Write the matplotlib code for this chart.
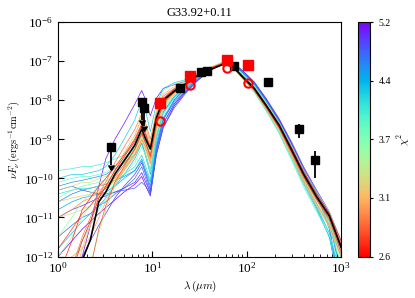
import numpy as np
import matplotlib
matplotlib.use("Agg")
import matplotlib.pyplot as plt
from matplotlib.colors import LogNorm
from matplotlib.cm import ScalarMappable
from matplotlib.ticker import NullLocator

plt.rcParams['font.family'] = 'serif'
plt.rcParams['font.serif'] = ['Liberation Serif', 'DejaVu Serif']
plt.rcParams['mathtext.fontset'] = 'cm'

title = "G33.92+0.11"

# wavelength grid of the model SEDs (micron)
wav = [1, 1.4, 1.8, 2.2, 2.7, 3.2, 4, 5, 6.5, 7.7, 8.5, 9.5, 11, 13, 17, 22, 30,
       40, 55, 70, 90, 120, 160, 220, 300, 400, 550, 750, 1000]

# best fit model, log10(nuFnu)
best_fit = [-14, -13, -12.1, -11.57, -10.6, -10.35, -9.89, -9.55, -9.15, -8.74, -9.0,
            -9.25, -8.45, -8.0, -7.77, -7.6, -7.37, -7.23, -7.09, -7.12, -7.4, -7.7,
            -8.13, -8.64, -9.28, -9.89, -10.47, -10.96, -11.76]

# other good models: chi2 and log10(nuFnu)
model_chi2 = [2.7, 2.65, 2.8, 2.9, 3.0, 3.1, 3.3, 3.4, 3.5, 3.7, 3.9, 4.0, 4.2,
              4.4, 4.5, 4.7, 4.8, 4.9, 5.1, 5.2,
              3.2, 3.6, 3.8, 4.1, 4.3, 4.6, 5.0, 2.75, 3.05, 3.5]
m01 = [-12.5, -11.6, -10.8, -10.5, -10.2, -10.0, -9.7, -9.4, -9.0, -8.6, -8.85, -9.2, -8.45, -7.95, -7.72, -7.58, -7.36, -7.18, -7.06, -7.1, -7.37, -7.67, -8.1, -8.6, -9.22, -9.82, -10.4, -10.9, -11.6]
m02 = [-13, -12.4, -11.6, -11.1, -10.5, -10.2, -9.8, -9.45, -9.05, -8.65, -8.9, -9.25, -8.48, -7.98, -7.74, -7.6, -7.38, -7.2, -7.07, -7.11, -7.39, -7.69, -8.12, -8.63, -9.26, -9.87, -10.45, -10.95, -11.7]
m03 = [-15, -14, -13, -12.3, -11.3, -10.7, -10.1, -9.7, -9.25, -8.85, -9.1, -9.4, -8.6, -8.05, -7.78, -7.62, -7.4, -7.21, -7.08, -7.13, -7.42, -7.73, -8.17, -8.7, -9.35, -9.97, -10.55, -11.05, -11.9]
m04 = [-13.5, -12.3, -11.5, -11.0, -10.4, -10.1, -9.6, -9.2, -8.75, -8.35, -8.6, -9.0, -8.35, -7.9, -7.7, -7.57, -7.37, -7.2, -7.08, -7.13, -7.4, -7.72, -8.15, -8.67, -9.3, -9.93, -10.52, -11.0, -11.7]
m05 = [-11.0, -10.8, -10.6, -10.5, -10.3, -10.2, -10.0, -9.75, -9.4, -9.0, -9.2, -9.5, -8.65, -8.1, -7.8, -7.63, -7.4, -7.22, -7.09, -7.14, -7.43, -7.75, -8.2, -8.73, -9.4, -10.05, -10.65, -11.2, -12.0]
m06 = [-14, -12.8, -11.8, -11.2, -10.5, -10.2, -9.8, -9.35, -8.9, -8.45, -8.7, -9.1, -8.3, -7.85, -7.65, -7.52, -7.33, -7.17, -7.06, -7.11, -7.38, -7.7, -8.12, -8.62, -9.25, -9.85, -10.45, -10.95, -11.7]
m07 = [-10.3, -10.2, -10.1, -10.1, -10.0, -9.95, -9.8, -9.6, -9.3, -8.9, -9.1, -9.5, -8.6, -8.05, -7.75, -7.58, -7.35, -7.17, -7.05, -7.1, -7.38, -7.7, -8.15, -8.7, -9.35, -10.0, -10.6, -11.15, -12.0]
m08 = [-11.0, -10.9, -10.8, -10.7, -10.5, -10.35, -10.05, -9.75, -9.35, -8.95, -9.2, -9.6, -8.75, -8.15, -7.82, -7.64, -7.4, -7.2, -7.07, -7.11, -7.38, -7.7, -8.14, -8.66, -9.3, -9.92, -10.5, -11.05, -11.8]
m09 = [-12.0, -11.5, -11.0, -10.7, -10.4, -10.2, -9.9, -9.5, -8.95, -8.4, -8.7, -9.15, -8.25, -7.75, -7.58, -7.5, -7.33, -7.18, -7.08, -7.14, -7.42, -7.75, -8.2, -8.75, -9.4, -10.05, -10.65, -11.2, -12.1]
m10 = [-10.5, -10.3, -10.2, -10.15, -10.1, -10.05, -10.0, -9.9, -9.6, -9.2, -9.4, -9.8, -8.9, -8.25, -7.85, -7.62, -7.37, -7.18, -7.05, -7.08, -7.34, -7.65, -8.08, -8.6, -9.22, -9.85, -10.42, -10.95, -11.7]
m11 = [-13, -12.2, -11.6, -11.2, -10.8, -10.5, -10.1, -9.75, -9.3, -8.9, -9.2, -9.6, -8.7, -8.1, -7.8, -7.6, -7.37, -7.19, -7.06, -7.1, -7.37, -7.7, -8.14, -8.67, -9.32, -9.95, -10.55, -11.1, -11.9]
m12 = [-9.8, -9.75, -9.7, -9.7, -9.65, -9.6, -9.5, -9.4, -9.1, -8.7, -9.0, -9.4, -8.55, -8.0, -7.7, -7.55, -7.34, -7.18, -7.07, -7.12, -7.4, -7.73, -8.18, -8.72, -9.38, -10.02, -10.62, -11.25, -12.2]
m13 = [-10.0, -9.9, -9.9, -9.85, -9.8, -9.7, -9.4, -9.0, -8.5, -8.0, -8.3, -8.8, -8.1, -7.7, -7.55, -7.48, -7.32, -7.18, -7.08, -7.14, -7.43, -7.78, -8.25, -8.82, -9.5, -10.15, -10.8, -11.5, -12.4]
m14 = [-10.8, -10.6, -10.5, -10.45, -10.4, -10.35, -10.2, -10.0, -9.8, -9.5, -9.8, -10.1, -9.1, -8.45, -8.0, -7.72, -7.42, -7.2, -7.04, -7.06, -7.3, -7.6, -8.03, -8.55, -9.18, -9.8, -10.4, -11.0, -12.5]
m15 = [-10.2, -10.1, -10.05, -10.0, -9.95, -9.9, -9.75, -9.6, -9.4, -9.1, -9.4, -9.8, -8.9, -8.3, -7.92, -7.68, -7.42, -7.22, -7.07, -7.1, -7.36, -7.7, -8.17, -8.73, -9.42, -10.1, -10.75, -11.5, -13]
m16 = [-11.5, -11.2, -11.0, -10.9, -10.7, -10.6, -10.4, -10.25, -10.0, -9.7, -10.0, -10.4, -9.3, -8.6, -8.1, -7.8, -7.48, -7.24, -7.06, -7.05, -7.27, -7.57, -8.0, -8.52, -9.15, -9.78, -10.38, -11.3, -13]
m17 = [-10.3, -10.2, -10.3, -10.35, -10.4, -10.4, -10.35, -10.3, -10.25, -10.1, -10.2, -10.4, -9.4, -8.7, -8.2, -7.85, -7.5, -7.25, -7.07, -7.06, -7.3, -7.62, -8.07, -8.6, -9.25, -9.9, -10.5, -11.1, -12.5]
m18 = [-13, -12.5, -12.0, -11.6, -11.2, -10.9, -10.5, -10.2, -9.9, -9.6, -9.9, -10.3, -9.2, -8.5, -8.0, -7.7, -7.42, -7.2, -7.03, -7.02, -7.25, -7.55, -7.98, -8.5, -9.12, -9.75, -10.35, -10.9, -11.8]
m19 = [-14, -13, -12, -11.2, -10.2, -9.5, -9.0, -8.6, -8.1, -7.75, -8.0, -8.4, -7.95, -7.7, -7.6, -7.52, -7.35, -7.2, -7.07, -7.1, -7.36, -7.66, -8.1, -8.6, -9.22, -9.85, -10.45, -11.0, -11.9]
m20 = [-12.0, -11.6, -11.3, -11.1, -10.9, -10.75, -10.55, -10.35, -10.15, -9.95, -10.2, -10.45, -9.4, -8.7, -8.15, -7.82, -7.5, -7.25, -7.06, -7.04, -7.25, -7.55, -7.97, -8.5, -9.12, -9.75, -10.35, -10.9, -11.7]
m21 = [-10.6, -10.5, -10.45, -10.4, -10.35, -10.25, -10.05, -9.8, -9.45, -9.05, -9.3, -9.65, -8.8, -8.2, -7.85, -7.66, -7.42, -7.23, -7.1, -7.15, -7.44, -7.77, -8.22, -8.77, -9.45, -10.1, -10.7, -11.25, -12.0]
m22 = [-11.5, -11.0, -10.6, -10.4, -10.2, -10.1, -9.85, -9.6, -9.2, -8.8, -9.05, -9.45, -8.6, -8.05, -7.78, -7.6, -7.35, -7.16, -7.03, -7.07, -7.33, -7.63, -8.06, -8.57, -9.18, -9.78, -10.35, -10.85, -11.6]
m23 = [-10.1, -10.0, -9.95, -9.95, -9.9, -9.85, -9.7, -9.5, -9.2, -8.85, -9.15, -9.6, -8.75, -8.15, -7.8, -7.6, -7.36, -7.19, -7.08, -7.14, -7.44, -7.8, -8.27, -8.85, -9.55, -10.22, -10.85, -11.45, -12.3]
m24 = [-10.4, -10.3, -10.25, -10.25, -10.2, -10.15, -10.05, -9.9, -9.7, -9.4, -9.7, -10.05, -9.0, -8.35, -7.95, -7.7, -7.43, -7.22, -7.06, -7.08, -7.33, -7.64, -8.08, -8.62, -9.27, -9.9, -10.5, -11.1, -12.0]
m25 = [-11.8, -11.4, -11.1, -10.9, -10.7, -10.5, -10.2, -9.9, -9.5, -9.1, -9.45, -9.9, -8.95, -8.3, -7.9, -7.65, -7.38, -7.18, -7.04, -7.07, -7.35, -7.68, -8.15, -8.7, -9.38, -10.05, -10.7, -11.4, -12.8]
m26 = [-10.6, -10.4, -10.3, -10.25, -10.2, -10.15, -10.05, -9.95, -9.8, -9.55, -9.85, -10.2, -9.2, -8.5, -8.05, -7.75, -7.45, -7.22, -7.05, -7.05, -7.28, -7.58, -8.02, -8.55, -9.2, -9.85, -10.48, -11.2, -13]
m27 = [-11.0, -10.8, -10.7, -10.6, -10.5, -10.45, -10.35, -10.25, -10.1, -9.85, -10.1, -10.35, -9.3, -8.6, -8.1, -7.78, -7.46, -7.22, -7.04, -7.03, -7.24, -7.53, -7.95, -8.47, -9.08, -9.7, -10.3, -10.85, -11.6]
m28 = [-11.8, -11.3, -10.9, -10.7, -10.4, -10.25, -9.95, -9.65, -9.25, -8.85, -9.1, -9.45, -8.6, -8.05, -7.8, -7.63, -7.4, -7.22, -7.09, -7.13, -7.42, -7.74, -8.18, -8.7, -9.34, -9.95, -10.52, -11.0, -11.8]
m29 = [-12.5, -12.0, -11.8, -11.5, -11.0, -10.6, -10.15, -9.8, -9.4, -9.0, -9.25, -9.6, -8.7, -8.1, -7.8, -7.62, -7.38, -7.2, -7.07, -7.12, -7.4, -7.72, -8.16, -8.68, -9.32, -9.93, -10.5, -11.0, -11.8]
m30 = [-15, -14, -13, -12.2, -11.4, -10.8, -10.2, -9.7, -9.2, -8.8, -9.05, -9.4, -8.55, -8.0, -7.75, -7.6, -7.38, -7.2, -7.07, -7.11, -7.38, -7.7, -8.13, -8.65, -9.3, -9.92, -10.5, -11.0, -11.8]
models = [m01, m02, m03, m04, m05, m06, m07, m08, m09, m10, m11, m12, m13, m14,
          m15, m16, m17, m18, m19, m20, m21, m22, m23, m24, m25, m26, m27, m28,
          m29, m30]

# measured fluxes (erg s-1 cm-2)
det_wav = [19.8, 33, 38, 73, 166, 362, 525]
det_flux = [2.1e-8, 5.3e-8, 5.6e-8, 7.4e-8, 2.9e-8, 1.8e-9, 3.0e-10]
det_err = [2e-9, 5e-9, 5e-9, 7e-9, 3e-9, 0.7e-9, 2.0e-10]

ul_wav = [3.6, 7.8, 8.2]
ul_flux = [6.4e-10, 9.1e-9, 6.2e-9]

red_wav = [12.1, 25.3, 61, 104]
red_flux = [8.7e-9, 4.1e-8, 1.06e-7, 7.9e-8]
conv_flux = [2.95e-9, 2.4e-8, 6.5e-8, 2.8e-8]

chi2_min, chi2_max = 2.6, 5.2
cbar_labels = ['2.6', '3.1', '3.7', '4.4', '5.2']

fig = plt.figure(figsize=(4.15, 2.98), dpi=100)
ax = fig.add_axes([0.140, 0.139, 0.682, 0.787])
cax = fig.add_axes([0.863, 0.139, 0.029, 0.787])

norm = LogNorm(vmin=chi2_min, vmax=chi2_max)
cmap = plt.get_cmap('rainbow_r')

# worst models first so the best sit on top
for i in np.argsort(model_chi2)[::-1]:
    ax.plot(wav, 10 ** np.array(models[i]), color=cmap(norm(model_chi2[i])),
            lw=0.5, zorder=1)
ax.plot(wav, 10 ** np.array(best_fit), color='k', lw=1.2, zorder=2)

ax.errorbar(det_wav, det_flux, yerr=det_err, fmt='s', color='k', ms=5.5,
            elinewidth=1.3, capsize=0, zorder=4)
ul_err = [0.65 * f for f in ul_flux]
ax.errorbar(ul_wav, ul_flux, yerr=ul_err, uplims=True, fmt='s', color='k', ms=5.5,
            elinewidth=1.3, capsize=2.5, zorder=4)
ax.plot(red_wav, red_flux, 's', color='red', ms=6.5, zorder=5)
ax.plot(red_wav, conv_flux, 'o', mfc='none', mec='red', mew=1.5, ms=6, zorder=5)

ax.set_xscale('log')
ax.set_yscale('log')
ax.set_xlim(1, 1000)
ax.set_ylim(1e-12, 1e-6)
ax.yaxis.set_minor_locator(NullLocator())
ax.tick_params(which='both', direction='in', top=False, right=False, labelsize=9.5)
ax.tick_params(which='major', length=4)
ax.tick_params(which='minor', length=2)
ax.set_title(title, fontsize=9, pad=4)
ax.set_xlabel(r'$\lambda\,(\mu m)$', fontsize=8, labelpad=2)
ax.set_ylabel(r'$\nu F_\nu\,(\mathrm{ergs^{-1}cm^{-2}})$', fontsize=7.5, labelpad=1)

cb = fig.colorbar(ScalarMappable(norm=norm, cmap=cmap), cax=cax)
cb.ax.minorticks_off()
cb.set_ticks(np.geomspace(chi2_min, chi2_max, len(cbar_labels)))
cb.set_ticklabels(cbar_labels)
cb.ax.tick_params(labelsize=7, length=2.5)
cb.set_label(r'$\chi^2$', fontsize=8, labelpad=3)

fig.savefig('out.png', dpi=100)
